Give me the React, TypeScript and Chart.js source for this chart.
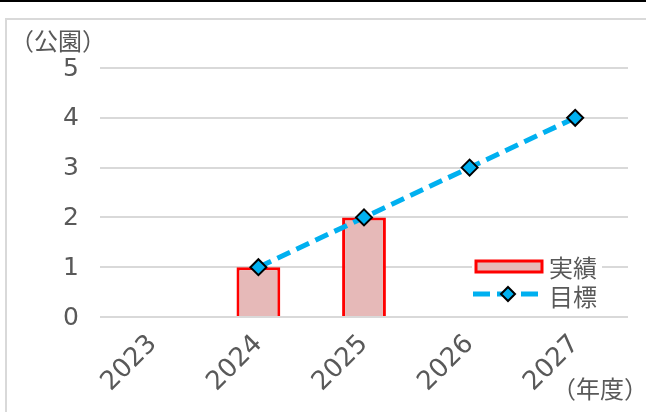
import React, { useEffect, useRef } from 'react';
import { Chart, registerables } from 'chart.js';

Chart.register(...registerables);

const categories = ['2023', '2024', '2025', '2026', '2027'];
const actualValues = [null, 1, 2, null, null];
const targetValues = [null, 1, 2, 3, 4];
const seriesNames = ['実績', '目標'];
const yAxisTitle = '（公園）';
const xAxisTitle = '（年度）';
const yMin = 0;
const yMax = 5;
const yStep = 1;

const FONT = '"Noto Sans CJK JP", "Noto Sans", sans-serif';
const NUM_FONT = '"DejaVu Sans", "Noto Sans CJK JP", sans-serif';
const TEXT = '#595959';
const BAR_FILL = '#e6b9b8';
const BAR_BORDER = '#ff0000';
const LINE = '#00b0f0';

const overlayPlugin = {
  id: 'overlay',
  afterDraw(chart: any) {
    const ctx = chart.ctx;
    ctx.save();
    // axis titles
    ctx.fillStyle = TEXT;
    ctx.font = `24px ${FONT}`;
    ctx.textAlign = 'center';
    ctx.textBaseline = 'middle';
    ctx.fillText(yAxisTitle, 58, 41);
    ctx.fillText(xAxisTitle, 600, 389);

    // legend
    ctx.fillStyle = '#ffffff';
    ctx.fillRect(472, 254, 130, 52);
    ctx.fillStyle = BAR_FILL;
    ctx.fillRect(476, 261, 66, 11);
    ctx.strokeStyle = BAR_BORDER;
    ctx.lineWidth = 3;
    ctx.strokeRect(476, 261, 66, 11);

    ctx.strokeStyle = LINE;
    ctx.lineWidth = 5;
    ctx.setLineDash([17, 7]);
    ctx.beginPath();
    ctx.moveTo(473, 294);
    ctx.lineTo(541, 294);
    ctx.stroke();
    ctx.setLineDash([]);
    ctx.beginPath();
    const cx = 508, cy = 294, r = 7;
    ctx.moveTo(cx, cy - r);
    ctx.lineTo(cx + r, cy);
    ctx.lineTo(cx, cy + r);
    ctx.lineTo(cx - r, cy);
    ctx.closePath();
    ctx.fillStyle = LINE;
    ctx.fill();
    ctx.strokeStyle = '#000000';
    ctx.lineWidth = 2;
    ctx.stroke();

    ctx.fillStyle = TEXT;
    ctx.font = `24px ${FONT}`;
    ctx.textAlign = 'left';
    ctx.textBaseline = 'middle';
    ctx.fillText(seriesNames[0], 549, 268);
    ctx.fillText(seriesNames[1], 549, 297);
    ctx.restore();
  },
};

export default function App() {
  const ref = useRef<HTMLCanvasElement | null>(null);

  useEffect(() => {
    document.body.style.margin = '0';
    const canvas = ref.current;
    if (!canvas) return;
    const chart = new Chart(canvas, {
      type: 'bar',
      data: {
        labels: categories,
        datasets: [
          {
            type: 'bar',
            label: seriesNames[0],
            data: actualValues,
            backgroundColor: BAR_FILL,
            borderColor: BAR_BORDER,
            borderWidth: 3,
            barPercentage: 0.415,
            categoryPercentage: 1,
            order: 1,
          } as any,
          {
            type: 'line',
            label: seriesNames[1],
            data: targetValues,
            borderColor: LINE,
            borderWidth: 5,
            borderDash: [14, 7],
            pointStyle: 'rectRot',
            pointRadius: 8,
            pointBackgroundColor: LINE,
            pointBorderColor: '#000000',
            pointBorderWidth: 2,
            fill: false,
            tension: 0,
            order: 0,
          } as any,
        ],
      },
      options: {
        animation: false,
        responsive: false,
        maintainAspectRatio: false,
        layout: { padding: { left: 0, right: 18, top: 68, bottom: 0 } },
        plugins: {
          legend: { display: false },
          tooltip: { enabled: false },
        },
        scales: {
          x: {
            offset: true,
            grid: { display: false, drawTicks: false },
            border: { display: false },
            ticks: {
              color: TEXT,
              font: { family: NUM_FONT, size: 26 },
              minRotation: 45,
              maxRotation: 45,
              padding: 12,
            },
            afterFit(scale: any) {
              scale.height = 95;
            },
          },
          y: {
            min: yMin,
            max: yMax,
            ticks: {
              stepSize: yStep,
              color: TEXT,
              font: { family: NUM_FONT, size: 25 },
              padding: 21,
              labelOffset: 1,
            },
            grid: { color: '#d9d9d9', lineWidth: 2, drawTicks: false },
            border: { display: false },
            afterFit(scale: any) {
              scale.width = 100;
            },
          },
        },
      },
      plugins: [overlayPlugin],
    });
    return () => chart.destroy();
  }, []);

  return (
    <div style={{ position: 'absolute', left: 0, top: 0, width: 646, height: 412, background: '#fff', overflow: 'hidden' }}>
      <div style={{ position: 'absolute', left: 0, top: 0, width: 646, height: 2, background: '#000' }} />
      <div style={{ position: 'absolute', left: 5, top: 18, width: 700, height: 500, border: '2px solid #d9d9d9', boxSizing: 'border-box' }} />
      <canvas ref={ref} width={646} height={412} style={{ position: 'absolute', left: 0, top: 0, width: 646, height: 412 }} />
    </div>
  );
}
